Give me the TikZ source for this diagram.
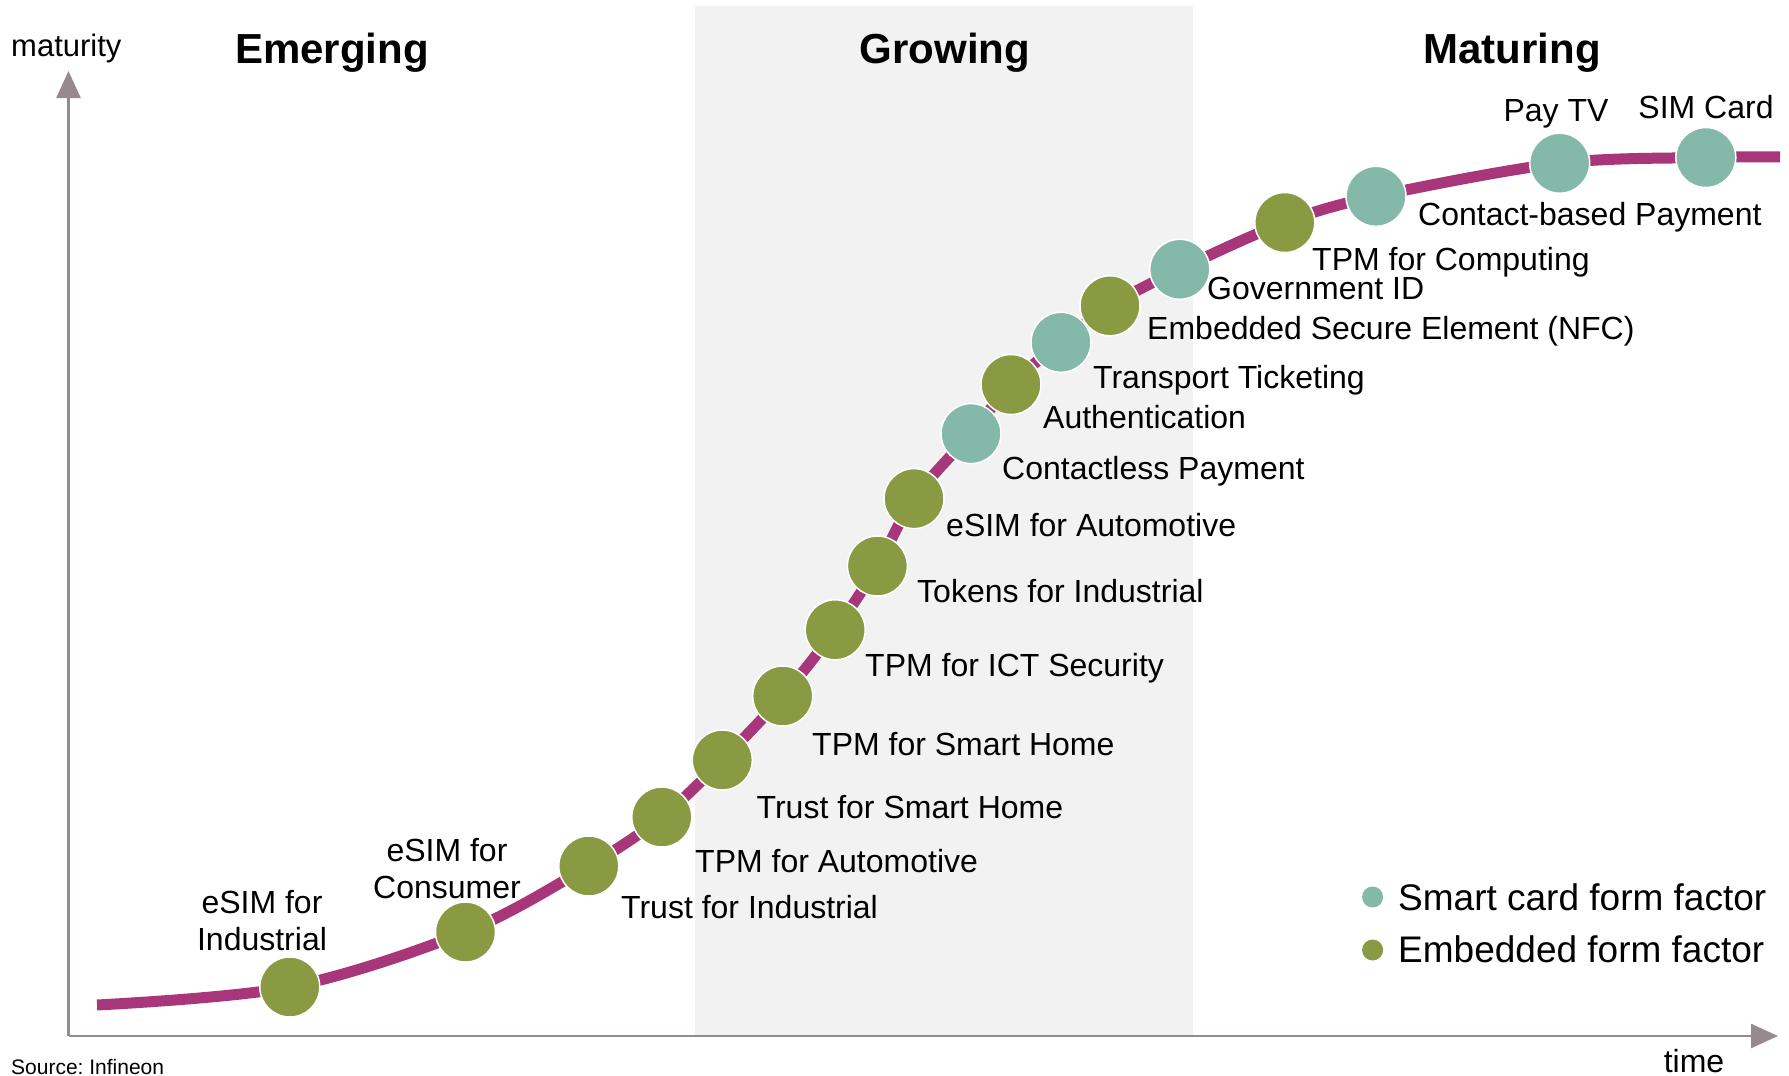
\documentclass[tikz,border=0pt]{standalone}
\usepackage{fontspec}
\setmainfont{Liberation Sans}
\usetikzlibrary{arrows.meta}
\definecolor{mag}{HTML}{A8367A}
\definecolor{olivec}{HTML}{8A9A43}
\definecolor{tealc}{HTML}{84B8A8}
\definecolor{axisgray}{HTML}{968A8E}
\definecolor{bandc}{HTML}{F2F2F2}
\begin{document}
\begin{tikzpicture}[x=1pt,y=-1pt,
  dotg/.style={circle,fill=olivec,draw=white,line width=1.5pt,minimum size=60pt,inner sep=0pt},
  dott/.style={dotg,fill=tealc},
  lbl/.style={anchor=mid west,font=\fontsize{32}{37}\selectfont,inner sep=0pt},
  lblc/.style={align=center,font=\fontsize{32}{37}\selectfont,inner sep=0pt},
  title/.style={font=\fontsize{42}{50}\selectfont\bfseries,inner sep=0pt},
  legdot/.style={circle,inner sep=0pt,minimum size=21pt},
  leg/.style={anchor=mid west,font=\fontsize{37}{44}\selectfont,inner sep=0pt},
  axis/.style={draw=axisgray,line width=2.5pt,-{Triangle[width=24pt,length=27pt]}}]
\useasboundingbox (0,0) rectangle (1789,1076);
\fill[bandc] (695,6) rectangle (1193,1036);
% axes
\coordinate (O) at (68.5,1036);
\coordinate (ytip) at (68.5,71);
\coordinate (xtip) at (1778,1036);
\draw[axis] (O) -- (ytip);
\draw[axis] (O) -- (xtip);
% titles
\node[title] (t1) at (332,53) {Emerging};
\node[title] (t2) at (945,53) {Growing};
\node[title] (t3) at (1512,53) {Maturing};
\node[anchor=mid west,font=\fontsize{31}{36}\selectfont,inner sep=0pt] (my) at (11,54) {maturity};
\node[anchor=mid,font=\fontsize{32}{36}\selectfont,inner sep=0pt] (tx) at (1694,1070) {time};
\node[anchor=mid west,font=\fontsize{21}{25}\selectfont,inner sep=0pt] (src) at (11,1072) {\frenchspacing Source: Infineon};
% curve points
\coordinate (cs) at (97,1005);
\coordinate (ce) at (1780,157);
\coordinate (p1) at (289.8,987);
\coordinate (p2) at (465.5,932);
\coordinate (p3) at (588.8,866);
\coordinate (p4) at (661.8,817);
\coordinate (p5) at (722.3,760);
\coordinate (p6) at (782.7,696);
\coordinate (p7) at (835.2,629.8);
\coordinate (p8) at (877.4,566);
\coordinate (p9) at (914,498.6);
\coordinate (p10) at (971,433.6);
\coordinate (p11) at (1011,384.5);
\coordinate (p12) at (1061,342.3);
\coordinate (p13) at (1110,305.8);
\coordinate (p14) at (1179.8,269.3);
\coordinate (p15) at (1284.8,222.5);
\coordinate (p16) at (1376,196.3);
\coordinate (p17) at (1559.7,163.2);
\coordinate (p18) at (1705.8,157.5);
\draw[mag,line width=11pt] plot[smooth,tension=0.55] coordinates {(cs) (p1) (p2) (p3) (p4) (p5) (p6) (p7) (p8) (p9) (p10) (p11) (p12) (p13) (p14) (p15) (p16) (p17) (p18) (ce)};
% dots
\node[dotg] (d1) at (p1) {};
\node[dotg] (d2) at (p2) {};
\node[dotg] (d3) at (p3) {};
\node[dotg] (d4) at (p4) {};
\node[dotg] (d5) at (p5) {};
\node[dotg] (d6) at (p6) {};
\node[dotg] (d7) at (p7) {};
\node[dotg] (d8) at (p8) {};
\node[dotg] (d9) at (p9) {};
\node[dott] (d10) at (p10) {};
\node[dotg] (d11) at (p11) {};
\node[dott] (d12) at (p12) {};
\node[dotg] (d13) at (p13) {};
\node[dott] (d14) at (p14) {};
\node[dotg] (d15) at (p15) {};
\node[dott] (d16) at (p16) {};
\node[dott] (d17) at (p17) {};
\node[dott] (d18) at (p18) {};
% labels
\node[lblc] (l1) at (262,921) {eSIM for\\Industrial};
\node[lblc] (l2) at (447,869) {eSIM for\\Consumer};
\node[lbl] (l3) at (621,916) {Trust for Industrial};
\node[lbl] (l4) at (695,870) {TPM for Automotive};
\node[lbl] (l5) at (756.5,816) {Trust for Smart Home};
\node[lbl] (l6) at (812,753) {TPM for Smart Home};
\node[lbl] (l7) at (865,674) {TPM for ICT Security};
\node[lbl] (l8) at (917,600) {Tokens for Industrial};
\node[lbl] (l9) at (946,534) {eSIM for Automotive};
\node[lbl] (l10) at (1002,477) {Contactless Payment};
\node[lbl] (l11) at (1043,426) {Authentication};
\node[lbl] (l12) at (1093,386) {Transport Ticketing};
\node[lbl] (l13) at (1147,337) {Embedded Secure Element (NFC)};
\node[lbl] (l14) at (1207,297) {Government ID};
\node[lbl] (l15) at (1312,268) {TPM for Computing};
\node[lbl] (l16) at (1418,223) {Contact-based Payment};
\node[lblc,anchor=mid] (l17) at (1556,119) {Pay TV};
\node[lblc,anchor=mid] (l18) at (1706,116) {SIM Card};
% legend
\node[legdot,fill=tealc] (g1) at (1372.6,897) {};
\node[legdot,fill=olivec] (g2) at (1372.6,950) {};
\node[leg] (gl1) at (1398,908) {Smart card form factor};
\node[leg] (gl2) at (1398,960) {Embedded form factor};
\end{tikzpicture}
\end{document}
